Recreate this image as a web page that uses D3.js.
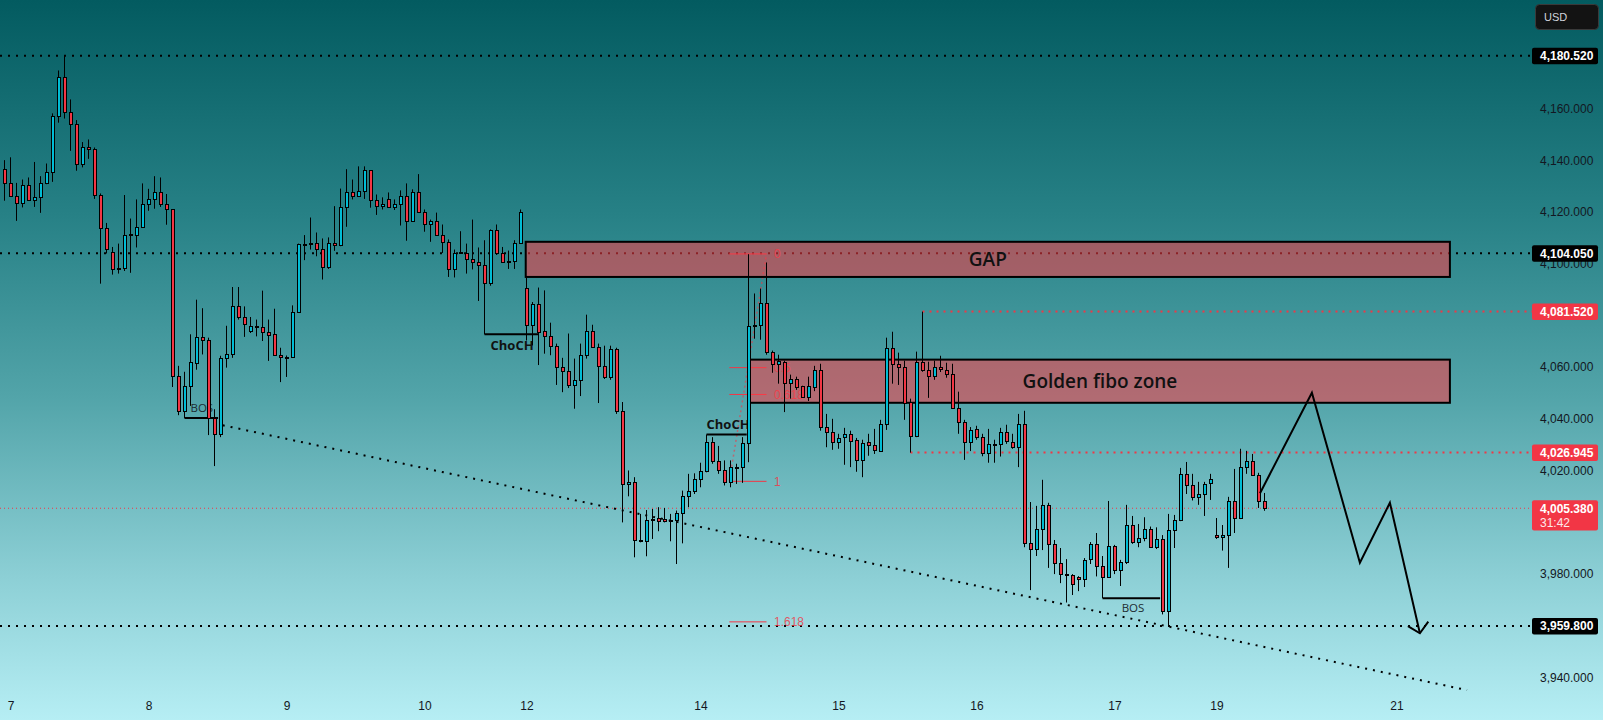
<!DOCTYPE html>
<html>
<head>
<meta charset="utf-8">
<script src="https://cdn.jsdelivr.net/npm/d3@7"></script>
<style>
  html, body { margin: 0; padding: 0; overflow: hidden; background: #5aaab0; }
  svg { display: block; }
</style>
</head>
<body>
<div id="chart"></div>
<script>
// ---- hourly candles (XAU/USD) ----
const openP = [
  4136.5,4131.1,4126.4,4123.7,4130.3,4124.5,4125.7,4131.1,4135.7,4157.1,
  4172.2,4158.6,4154.0,4138.8,4145.0,4144.3,4126.8,4114.0,4104.7,4098.5,
  4098.5,4111.3,4111.0,4114.4,4123.3,4124.9,4127.6,4123.3,4121.0,4056.7,
  4043.1,4052.8,4061.7,4071.8,4070.6,4040.3,4034.1,4063.6,4065.2,4083.8,
  4079.5,4074.1,4075.9,4075.6,4073.7,4072.9,4064.8,4064.1,4063.9,4081.5,
  4107.8,4107.9,4108.2,4105.9,4098.8,4108.2,4107.4,4121.8,4127.6,4126.4,
  4128.0,4136.1,4124.5,4122.2,4124.9,4121.8,4123.3,4126.4,4116.7,4127.6,
  4120.2,4115.2,4116.7,4111.3,4108.6,4097.8,4104.2,4104.3,4102.0,4100.5,
  4099.7,4092.7,4112.9,4104.3,4100.5,4101.2,4108.2,4090.8,4076.4,4084.3,
  4074.1,4072.2,4068.3,4060.2,4058.6,4053.2,4055.1,4064.8,4074.1,4067.9,
  4060.5,4056.3,4067.1,4043.1,4014.8,4015.6,3993.1,3992.7,4000.9,4001.6,
  4001.2,4000.9,4000.9,4003.6,4010.2,4012.1,4016.7,4019.8,4031.1,4023.7,
  4020.2,4015.6,4021.4,4021.4,4030.7,4076.1,4076.4,4085.0,4066.0,4061.3,
  4062.1,4054.0,4055.5,4052.8,4048.5,4052.4,4059.0,4036.9,4035.0,4031.1,
  4033.0,4034.2,4031.9,4024.1,4031.1,4029.9,4027.6,4038.1,4067.5,4061.3,
  4060.2,4046.5,4033.4,4062.1,4059.0,4056.7,4060.2,4059.0,4057.4,4044.3,
  4038.8,4031.1,4036.1,4033.0,4026.8,4030.3,4030.3,4035.0,4031.1,4029.2,
  4038.1,3991.9,3989.6,3997.4,4006.7,3991.6,3984.2,3980.0,3979.5,3978.8,
  3978.0,3985.7,3991.6,3983.0,3978.8,3990.8,3981.5,3984.6,3998.9,3992.3,
  3993.9,3997.4,3990.4,3993.5,3965.6,3997.0,4000.9,4018.7,4014.4,4009.8,
  4010.9,4015.2,3995.0,3994.3,3995.0,4008.2,4001.6,4021.4,4023.7,4018.3,
  4008.2
];
const highP = [
  4140.1,4141.2,4131.3,4132.6,4133.4,4139.4,4133.9,4138.8,4158.2,4174.8,
  4180.5,4163.6,4155.6,4147.1,4148.1,4145.0,4127.2,4115.8,4106.5,4107.8,
  4126.6,4117.5,4124.9,4131.1,4129.0,4133.9,4133.4,4127.0,4121.0,4060.5,
  4058.2,4072.7,4086.1,4082.8,4071.4,4043.7,4064.4,4076.0,4091.0,4091.0,
  4083.5,4079.4,4078.4,4089.6,4078.4,4082.6,4067.5,4064.5,4083.9,4107.8,
  4111.1,4117.9,4112.1,4109.8,4110.2,4122.3,4129.1,4136.6,4132.6,4137.7,
  4137.7,4136.1,4126.8,4125.7,4127.6,4124.9,4128.4,4131.1,4128.8,4134.7,
  4121.0,4117.1,4119.8,4115.2,4109.4,4105.5,4112.6,4107.8,4117.1,4106.3,
  4109.1,4113.3,4115.2,4106.5,4105.1,4109.1,4121.0,4094.5,4085.2,4090.8,
  4089.7,4077.2,4069.1,4063.6,4073.0,4063.3,4069.1,4080.3,4076.4,4069.1,
  4068.3,4068.3,4067.5,4046.5,4020.0,4017.4,4003.2,4004.7,4005.1,4005.8,
  4005.5,4003.2,4004.5,4012.2,4018.7,4018.9,4023.0,4033.9,4032.9,4029.5,
  4023.9,4023.9,4022.6,4032.9,4103.7,4088.5,4090.4,4100.5,4066.4,4064.8,
  4062.5,4057.1,4056.3,4052.8,4056.3,4060.5,4061.3,4041.9,4040.0,4034.2,
  4036.5,4035.4,4032.6,4031.9,4034.2,4036.1,4039.6,4071.4,4073.7,4065.6,
  4062.5,4047.8,4066.0,4081.5,4062.1,4062.5,4064.4,4061.7,4061.3,4050.5,
  4039.6,4036.8,4037.3,4034.2,4036.1,4031.9,4036.5,4037.7,4034.2,4041.9,
  4043.1,4007.8,4006.3,4016.4,4007.5,3993.1,3990.0,3985.7,3979.9,3979.1,
  3986.1,3992.3,3995.8,3986.9,4008.2,3991.2,3985.4,4006.7,4002.4,3999.3,
  4001.9,3998.3,3998.0,3995.0,4003.2,4002.8,4021.0,4023.3,4018.7,4015.6,
  4015.6,4018.7,4001.6,3998.9,4009.8,4020.6,4028.4,4027.6,4026.4,4019.1,
  4011.3
];
const lowP = [
  4124.4,4125.9,4116.6,4121.8,4124.4,4122.0,4119.7,4130.8,4131.7,4154.6,
  4156.2,4143.7,4136.0,4137.3,4140.6,4125.1,4092.3,4104.0,4095.8,4096.2,
  4097.2,4096.5,4106.3,4114.3,4120.5,4121.3,4122.0,4115.1,4052.3,4041.4,
  4040.3,4045.0,4059.0,4064.9,4033.7,4021.7,4032.9,4059.8,4063.6,4078.4,
  4071.7,4073.2,4071.9,4070.1,4062.4,4064.4,4054.2,4056.2,4063.9,4081.4,
  4101.4,4105.5,4102.9,4093.9,4098.0,4105.0,4106.8,4114.3,4124.9,4125.9,
  4125.1,4121.7,4118.9,4121.0,4121.6,4120.8,4114.8,4108.9,4116.3,4119.7,
  4112.4,4108.5,4111.1,4104.2,4094.9,4094.7,4104.0,4096.2,4097.8,4085.6,
  4072.7,4091.5,4103.4,4100.3,4098.0,4098.0,4108.1,4070.3,4068.4,4060.8,
  4065.2,4064.6,4053.1,4050.3,4051.9,4043.9,4048.8,4063.3,4067.5,4046.1,
  4055.4,4055.1,4041.9,3999.9,4010.0,3986.4,3992.2,3986.8,3993.5,3996.5,
  3999.9,3992.6,3983.8,3991.8,4005.8,4010.9,4013.5,4019.3,4022.6,4018.7,
  4014.2,4013.5,4014.8,4015.2,4023.2,4071.0,4070.6,4064.8,4057.8,4053.6,
  4042.6,4047.8,4051.2,4048.4,4046.9,4050.7,4035.4,4029.0,4028.0,4028.4,
  4022.2,4021.3,4019.5,4017.4,4025.7,4026.4,4027.2,4035.7,4053.6,4053.1,
  4039.6,4026.9,4032.9,4058.2,4048.1,4055.1,4058.1,4055.9,4043.8,4034.2,
  4024.1,4027.5,4031.9,4025.5,4023.0,4023.0,4025.4,4030.3,4028.4,4021.3,
  3990.3,3973.7,3986.9,3989.2,3982.3,3979.9,3976.4,3968.9,3971.8,3973.3,
  3974.9,3983.8,3979.0,3970.6,3978.4,3979.9,3975.3,3983.8,3991.6,3990.3,
  3992.6,3990.0,3989.6,3964.3,3959.8,3990.0,4000.4,4010.9,4008.4,4006.7,
  4002.4,4008.6,3993.5,3989.0,3982.3,3995.8,4001.2,4018.7,4017.9,4005.5,
  4004.4
];
const closeP = [
  4131.1,4126.4,4123.7,4130.3,4124.5,4125.7,4131.1,4135.7,4157.1,4172.2,
  4158.6,4154.0,4138.8,4145.0,4144.3,4126.8,4114.0,4105.9,4098.1,4098.1,
  4111.3,4111.4,4114.4,4123.3,4124.9,4127.6,4123.3,4121.0,4056.7,4043.1,
  4052.8,4062.1,4071.8,4070.6,4040.3,4034.1,4063.6,4065.2,4083.8,4079.5,
  4076.7,4076.0,4076.0,4073.7,4072.6,4064.8,4063.9,4063.9,4081.5,4107.8,
  4107.6,4108.2,4105.9,4098.8,4108.2,4107.4,4121.8,4127.6,4126.4,4128.0,
  4136.1,4124.5,4122.3,4123.3,4121.8,4123.3,4126.4,4116.7,4127.6,4120.2,
  4115.2,4116.7,4111.3,4108.6,4097.8,4104.3,4104.4,4102.0,4100.5,4099.7,
  4092.7,4112.9,4104.3,4100.5,4101.2,4108.2,4120.2,4076.4,4084.3,4073.7,
  4072.2,4068.3,4060.2,4058.6,4053.2,4055.1,4064.8,4074.1,4067.9,4060.5,
  4056.3,4067.1,4043.1,4014.8,4015.6,3993.1,3992.9,4000.9,4001.4,4000.5,
  4000.5,4000.6,4003.6,4010.2,4012.1,4016.7,4019.8,4031.1,4023.7,4020.2,
  4015.6,4021.4,4021.2,4030.7,4076.1,4076.4,4085.0,4066.0,4061.3,4062.5,
  4054.0,4055.5,4052.4,4048.5,4052.8,4059.0,4036.9,4035.0,4031.1,4032.6,
  4034.2,4031.5,4024.1,4030.7,4029.9,4028.0,4038.1,4067.5,4061.3,4060.2,
  4046.3,4033.4,4062.1,4059.0,4056.7,4060.2,4059.4,4057.4,4044.3,4038.8,
  4031.1,4035.7,4033.0,4026.8,4030.3,4030.4,4035.0,4031.5,4029.2,4038.1,
  3991.9,3989.6,3997.4,4006.7,3991.6,3984.2,3979.9,3979.8,3976.0,3978.0,
  3985.4,3991.6,3983.0,3978.8,3990.8,3981.5,3984.6,3998.9,3992.3,3993.9,
  3997.4,3990.4,3993.5,3965.6,3997.0,4000.9,4018.7,4014.4,4009.8,4010.9,
  4014.8,4016.8,3994.3,3995.0,4008.2,4001.6,4021.4,4023.7,4018.3,4008.2,
  4005.38
];

// time axis
const dayLabels = ["7", "8", "9", "10", "12", "14", "15", "16", "17", "19", "21"];
const dayIndex = [1, 24, 47, 70, 87, 116, 139, 162, 185, 202, 232];

// price axis (ticks hidden behind the level tags are left out)
const priceTicks = [3940, 3980, 4020, 4040, 4060, 4100, 4120, 4140, 4160];
const blackLevels = [4180.52, 4104.05, 3959.8];
const redLevels = [4081.52, 4026.945];
const redLevelStart = [153, 151];
const lastPrice = 4005.38;
const countdown = "31:42";

// zones
const zoneNames = ["GAP", "Golden fibo zone"];
const zoneTop = [4108.5, 4062.9];
const zoneBottom = [4094.9, 4046.2];
const zoneStart = [86.87, 124.25];
const zoneEnd = [240.9, 240.9];

// fibonacci
const fibHigh = 4103.8;
const fibLow = 4015.8;
const fibRatios = [0, 0.5, 0.618, 1, 1.618];
const fibText = ["0", "0.5", "0.618", "1", "1.618"];
const fibFrom = 120.8, fibTo = 127.0, fibLabelAt = 128.25;

// market structure marks
const structName = ["BOS", "ChoCH", "ChoCH", "BOS"];
const structPrice = [4040.3, 4072.7, 4033.9, 3970.6];
const structFrom = [30, 80, 117, 183];
const structTo = [35.6, 89, 123.7, 192.6];
const structTextAt = [31, 81, 117, 186.2];
const structAbove = [true, false, true, false];

// dotted trend line
const trendIdx = [36.37, 243.75];
const trendPrice = [4037.5, 3935.0];

// projected path
const pathIdx = [209.25, 217.9, 225.9, 230.9, 235.9];
const pathPrice = [4011.2, 4050.1, 3984.3, 4007.5, 3957.0];
const arrowIdx = [233.9, 235.9, 237.3];
const arrowPrice = [3959.8, 3957.0, 3961.5];

// ---- drawing ----
const W = 1603, H = 720;
const UP = "#00bcd4", DOWN = "#f23645";
const axisFont = "'Liberation Sans', Arial, sans-serif";
const noteFont = "'Open Sans', 'Noto Sans', sans-serif";
const labelX = 1532, labelW = 66;

const svg = d3.select("#chart").append("svg")
    .attr("width", W)
    .attr("height", H);

const defs = svg.append("defs");
const grad = defs.append("linearGradient")
    .attr("id", "bg")
    .attr("x1", 0).attr("x2", 0).attr("y1", 0).attr("y2", 1);
[[0, "#035b60"], [0.3, "#278186"], [0.55, "#52a4a9"], [0.8, "#8ccfd5"], [1, "#b6eef4"]]
    .forEach(s => grad.append("stop").attr("offset", s[0]).attr("stop-color", s[1]));

svg.append("rect").attr("width", W).attr("height", H).attr("fill", "url(#bg)");

const x = d3.scaleLinear().domain([0, 1]).range([4.5, 10.5]);
const y = d3.scaleLinear().domain([3940, 4180.52]).range([677.2, 55.7]);
const fmt = d3.format(",.3f");

const g = svg.append("g");

// horizontal levels
g.selectAll(".blk").data(blackLevels).enter().append("line")
    .attr("x1", 0).attr("x2", labelX)
    .attr("y1", d => y(d)).attr("y2", d => y(d))
    .attr("stroke", "#000").attr("stroke-width", 2)
    .attr("stroke-dasharray", "2,6");

g.selectAll(".red").data(redLevels).enter().append("line")
    .attr("x1", (d, i) => x(redLevelStart[i])).attr("x2", labelX)
    .attr("y1", d => y(d)).attr("y2", d => y(d))
    .attr("stroke", DOWN).attr("stroke-width", 2)
    .attr("stroke-dasharray", "2,5");

g.append("line")
    .attr("x1", 0).attr("x2", labelX)
    .attr("y1", y(lastPrice)).attr("y2", y(lastPrice))
    .attr("stroke", DOWN).attr("stroke-width", 1)
    .attr("stroke-dasharray", "1,3");

// dotted trend line
g.append("path")
    .datum(trendIdx.map((d, i) => [d, trendPrice[i]]))
    .attr("d", d3.line().x(d => x(d[0])).y(d => y(d[1])))
    .attr("fill", "none")
    .attr("stroke", "#000").attr("stroke-width", 2)
    .attr("stroke-dasharray", "2,6");

// fibonacci levels
const fibLevels = fibRatios.map(r => fibHigh - r * (fibHigh - fibLow));
g.selectAll(".fib").data(fibLevels).enter().append("line")
    .attr("x1", x(fibFrom)).attr("x2", x(fibTo))
    .attr("y1", d => y(d)).attr("y2", d => y(d))
    .attr("stroke", DOWN).attr("stroke-width", 1);

g.selectAll(".fibtxt").data(fibLevels).enter().append("text")
    .attr("x", x(fibLabelAt))
    .attr("y", d => y(d))
    .attr("dy", "0.35em")
    .attr("fill", DOWN)
    .attr("opacity", 0.8)
    .style("font-family", axisFont)
    .style("font-size", "12px")
    .text((d, i) => fibText[i]);

g.append("line")
    .attr("x1", x(fibFrom)).attr("y1", y(fibLow))
    .attr("x2", x(fibTo)).attr("y2", y(fibHigh))
    .attr("stroke", DOWN).attr("stroke-width", 1.5)
    .attr("stroke-dasharray", "2,3")
    .attr("opacity", 0.6);

// zones
zoneNames.forEach((name, i) => {
    const x0 = x(zoneStart[i]), x1 = x(zoneEnd[i]);
    const y0 = y(zoneTop[i]), y1 = y(zoneBottom[i]);
    g.append("rect")
        .attr("x", x0).attr("y", y0)
        .attr("width", x1 - x0).attr("height", y1 - y0)
        .attr("fill", "rgba(255,60,70,0.55)")
        .attr("stroke", "#000").attr("stroke-width", 2);
});

// structure marks (BOS / ChoCH)
structName.forEach((name, i) => {
    const yy = y(structPrice[i]);
    g.append("line")
        .attr("x1", x(structFrom[i])).attr("x2", x(structTo[i]))
        .attr("y1", yy).attr("y2", yy)
        .attr("stroke", "#000").attr("stroke-width", 2);
    const isChoch = name === "ChoCH";
    g.append("text")
        .attr("x", x(structTextAt[i]))
        .attr("y", structAbove[i] ? yy - 6 : yy + (isChoch ? 16 : 14))
        .attr("fill", isChoch ? "#111" : "#1d2c31")
        .style("font-family", noteFont)
        .style("font-size", isChoch ? "13px" : "11.5px")
        .style("font-weight", isChoch ? 700 : 400)
        .text(name);
});

// candles
const idx = d3.range(openP.length);
const cg = g.append("g");
cg.selectAll(".wick").data(idx).enter().append("line")
    .attr("x1", i => x(i)).attr("x2", i => x(i))
    .attr("y1", i => y(highP[i])).attr("y2", i => y(lowP[i]))
    .attr("stroke", "#000").attr("stroke-width", 1);

cg.selectAll(".body").data(idx).enter().append("rect")
    .attr("x", i => x(i) - 1)
    .attr("width", 3)
    .attr("y", i => Math.round(y(Math.max(openP[i], closeP[i]))) + 0.5)
    .attr("height", i => Math.max(1, Math.round(y(Math.min(openP[i], closeP[i]))) - Math.round(y(Math.max(openP[i], closeP[i])))))
    .attr("fill", i => closeP[i] >= openP[i] ? UP : DOWN)
    .attr("stroke", "#000").attr("stroke-width", 1);

// zone captions (on top)
zoneNames.forEach((name, i) => {
    g.append("text")
        .attr("x", (x(zoneStart[i]) + x(zoneEnd[i])) / 2)
        .attr("y", (y(zoneTop[i]) + y(zoneBottom[i])) / 2)
        .attr("dy", "0.36em")
        .attr("text-anchor", "middle")
        .attr("fill", "#111")
        .style("font-family", noteFont)
        .style("font-size", "19px")
        .style("font-weight", 600)
        .text(name);
});

// projected path
const line = d3.line().x(d => x(d[0])).y(d => y(d[1]));
g.append("path")
    .datum(pathIdx.map((d, i) => [d, pathPrice[i]]))
    .attr("d", line)
    .attr("fill", "none").attr("stroke", "#000").attr("stroke-width", 2)
    .attr("stroke-linejoin", "miter");
g.append("path")
    .datum(arrowIdx.map((d, i) => [d, arrowPrice[i]]))
    .attr("d", line)
    .attr("fill", "none").attr("stroke", "#000").attr("stroke-width", 2);

// price axis
const yAxis = svg.append("g")
    .attr("transform", "translate(1540,0)")
    .call(d3.axisRight(y).tickValues(priceTicks).tickFormat(fmt).tickSize(0).tickPadding(0));
yAxis.select(".domain").remove();
yAxis.selectAll("text")
    .attr("fill", "#131722")
    .style("font-family", axisFont)
    .style("font-size", "12px");

// price labels
function priceTag(p, color, extra) {
    const h = extra ? 30.3 : 16.5;
    const top = y(p) - 8;
    svg.append("rect")
        .attr("x", labelX).attr("y", top)
        .attr("width", labelW).attr("height", h)
        .attr("rx", 2)
        .attr("fill", color);
    svg.append("text")
        .attr("x", 1540).attr("y", y(p))
        .attr("dy", "0.36em")
        .attr("fill", "#fff")
        .style("font-family", axisFont)
        .style("font-size", "12px")
        .style("font-weight", 700)
        .text(fmt(p));
    if (extra) {
        svg.append("text")
            .attr("x", 1540).attr("y", y(p) + 14.5)
            .attr("dy", "0.36em")
            .attr("fill", "#fde8ea")
            .style("font-family", axisFont)
            .style("font-size", "12px")
            .text(extra);
    }
}
blackLevels.forEach(p => priceTag(p, "#000"));
redLevels.forEach(p => priceTag(p, DOWN));
priceTag(lastPrice, DOWN, countdown);

// currency badge
svg.append("rect")
    .attr("x", 1535.5).attr("y", 4.5)
    .attr("width", 63).attr("height", 25)
    .attr("rx", 4)
    .attr("fill", "#131313").attr("stroke", "#3a3a3a");
svg.append("text")
    .attr("x", 1544).attr("y", 17)
    .attr("dy", "0.36em")
    .attr("fill", "#d1d4dc")
    .style("font-family", axisFont)
    .style("font-size", "11px")
    .text("USD");

// time axis
const xAxis = svg.append("g")
    .attr("transform", "translate(0,701.5)")
    .call(d3.axisBottom(x).tickValues(dayIndex).tickFormat((d, i) => dayLabels[i]).tickSize(0).tickPadding(0));
xAxis.select(".domain").remove();
xAxis.selectAll("text")
    .attr("fill", "#131722")
    .style("font-family", axisFont)
    .style("font-size", "12px");
</script>
</body>
</html>
